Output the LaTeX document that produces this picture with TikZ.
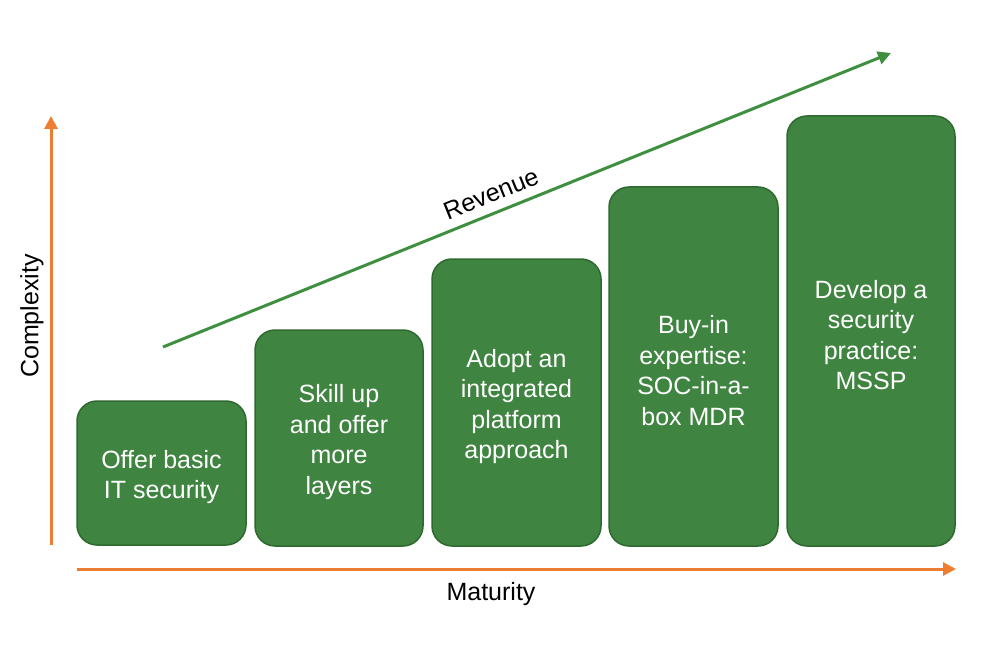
\documentclass[tikz,border=0pt]{standalone}
\usepackage{fontspec}
\setmainfont{Liberation Sans}
\usetikzlibrary{arrows.meta}
\definecolor{boxfill}{HTML}{3F8440}
\definecolor{boxline}{HTML}{2E6A30}
\definecolor{axisorange}{HTML}{ED7D31}
\definecolor{revgreen}{HTML}{3F8F40}
\tikzset{
  stagebox/.style={draw=boxline, line width=1.5pt, fill=boxfill, rounded corners=20pt, inner sep=0pt},
  stagetext/.style={text=white, align=center, font=\fontsize{25}{30.5}\selectfont, inner sep=0pt, yshift=-4pt},
  axisarrow/.style={draw=axisorange, line width=3pt, -{Triangle[length=13pt,width=13pt]}},
  revarrow/.style={draw=revgreen, line width=3pt, -{Triangle[length=13pt,width=13pt]}},
  lbl/.style={font=\fontsize{25}{28}\selectfont, text=black, inner sep=0pt}
}
\begin{document}
\begin{tikzpicture}[x=1pt,y=-1pt]
\useasboundingbox (0,0) rectangle (987,655);
\node[stagebox, minimum width=169pt, minimum height=144pt] (b1) at (161.5,473) {};
\node[stagebox, minimum width=168pt, minimum height=216pt] (b2) at (339,438) {};
\node[stagebox, minimum width=169pt, minimum height=287pt] (b3) at (516.5,402.5) {};
\node[stagebox, minimum width=169pt, minimum height=359pt] (b4) at (693.5,366.5) {};
\node[stagebox, minimum width=168pt, minimum height=430pt] (b5) at (871,331) {};
\node[stagetext] (t1) at (b1.center) {Offer basic\\IT security};
\node[stagetext] (t2) at (b2.center) {Skill up\\and offer\\more\\layers};
\node[stagetext] (t3) at (b3.center) {Adopt an\\integrated\\platform\\approach};
\node[stagetext] (t4) at (b4.center) {Buy-in\\expertise:\\SOC-in-a-\\box MDR};
\node[stagetext] (t5) at (b5.center) {Develop a\\security\\practice:\\MSSP};
\coordinate (ys) at (51,545);
\coordinate (ye) at (51,116);
\coordinate (xs) at (77,569);
\coordinate (xe) at (956,569);
\draw[axisarrow] (ys) -- (ye);
\draw[axisarrow] (xs) -- (xe);
\coordinate (rs) at (163,347);
\coordinate (re) at (891,53);
\draw[revarrow] (rs) -- (re);
\node[lbl, rotate=22] (rev) at (491,194) {Revenue};
\node[lbl, rotate=90] (cx) at (32,316) {Complexity};
\node[lbl] (mat) at (491,594) {Maturity};
\end{tikzpicture}
\end{document}
